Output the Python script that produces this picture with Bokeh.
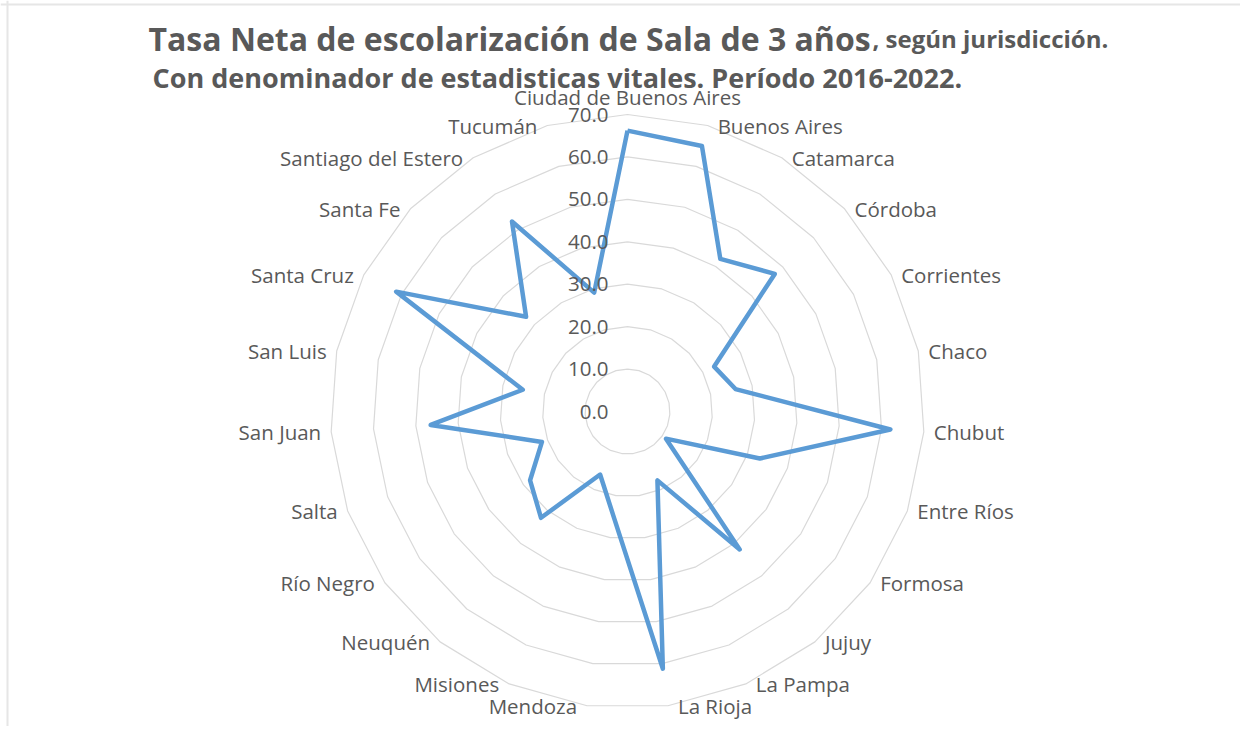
import numpy as np
from bokeh.plotting import figure
from bokeh.models import Range1d, ColumnDataSource, Span
from bokeh.core.properties import value
from bokeh.embed import file_html
from bokeh.resources import INLINE

# ---------------- data ----------------
categories = [
    "Ciudad de Buenos Aires", "Buenos Aires", "Catamarca", "Córdoba", "Corrientes",
    "Chaco", "Chubut", "Entre Ríos", "Formosa", "Jujuy", "La Pampa", "La Rioja",
    "Mendoza", "Misiones", "Neuquén", "Río Negro", "Salta", "San Juan", "San Luis",
    "Santa Cruz", "Santa Fe", "Santiago del Estero", "Tucumán",
]
tasa = [66.2, 65.0, 42.1, 47.5, 23.0, 26.0, 62.1, 33.1, 11.1, 41.9, 17.7, 61.2,
        24.7, 16.2, 32.3, 28.1, 21.4, 46.5, 25.2, 61.4, 32.7, 52.4, 29.1]
ticks = [0, 10, 20, 30, 40, 50, 60, 70]
tick_labels = ["0.0", "10.0", "20.0", "30.0", "40.0", "50.0", "60.0", "70.0"]

title_main = "Tasa Neta de escolarización de Sala de 3 años"
title_tail = ", según jurisdicción."
subtitle = "Con denominador de estadisticas vitales. Período 2016-2022."

# ---------------- layout ----------------
W, H = 1240, 726
OFF = 0                    # observed page offset of the canvas
CX, CY = 627, 411          # radar centre in canvas pixels
SCALE = 297 / 70.0         # pixels per unit
FONT = value("Open Sans")
GRAY = "#595959"


def px_x(px):
    return (px - OFF - CX) / SCALE


def px_y(py):
    return (CY - (py - OFF)) / SCALE


p = figure(width=W, height=H, output_backend="svg", toolbar_location=None,
           x_range=Range1d(-CX / SCALE, (W - CX) / SCALE),
           y_range=Range1d(-(H - CY) / SCALE, CY / SCALE),
           x_axis_location=None, y_axis_location=None, min_border=0)
p.xgrid.visible = False
p.ygrid.visible = False
p.outline_line_color = None
p.background_fill_color = "white"

# faint chart-area border (top and left, as in the reference crop)
p.add_layout(Span(location=px_x(7), dimension="height", line_color="#E6E6E6", line_width=2))
p.add_layout(Span(location=px_y(4), dimension="width", line_color="#E6E6E6", line_width=2))

n = len(categories)
theta = np.arange(n) * 2 * np.pi / n
s, c = np.sin(theta), np.cos(theta)

# grid polygons
gxs, gys = [], []
for lv in ticks[1:]:
    gxs.append(list(lv * s) + [lv * s[0]])
    gys.append(list(lv * c) + [lv * c[0]])
p.multi_line(gxs, gys, line_color="#D9D9D9", line_width=1.2)

# data line
vals = np.array(tasa)
dx = list(vals * s) + [vals[0] * s[0]]
dy = list(vals * c) + [vals[0] * c[0]]
p.line(dx, dy, line_color="#5B9BD5", line_width=4.5, line_join="round")

# value-axis labels
p.text(x=[px_x(608)] * len(ticks), y=ticks, text=tick_labels,
       text_font=FONT, text_font_size="20.5px", text_color=GRAY,
       text_align="right", text_baseline="middle")

# category labels
top = ticks[-1]
off = 10 / SCALE
lx, ly, la = [], [], []
for i in range(n):
    x0, y0 = top * s[i], top * c[i]
    if abs(s[i]) < 1e-6:
        lx.append(x0); ly.append(y0 + 18 / SCALE); la.append("center")
    elif s[i] > 0:
        lx.append(x0 + off); ly.append(y0); la.append("left")
    else:
        lx.append(x0 - off); ly.append(y0); la.append("right")
src = ColumnDataSource(dict(x=lx, y=ly, t=categories, a=la))
p.text(x="x", y="y", text="t", text_align="a", source=src,
       text_font=FONT, text_font_size="20.5px", text_color=GRAY,
       text_baseline="middle")

# titles
p.text(x=[px_x(148)], y=[px_y(38)], text=[title_main], text_font=FONT,
       text_font_style="bold", text_font_size="32px", text_color=GRAY,
       text_align="left", text_baseline="alphabetic")
p.text(x=[px_x(872)], y=[px_y(38)], text=[title_tail], text_font=FONT,
       text_font_style="bold", text_font_size="24px", text_color=GRAY,
       text_align="left", text_baseline="alphabetic")
p.text(x=[px_x(152)], y=[px_y(77)], text=[subtitle], text_font=FONT,
       text_font_style="bold", text_font_size="27px", text_color=GRAY,
       text_align="left", text_baseline="alphabetic")

open("out.html", "w").write(file_html(p, INLINE))
